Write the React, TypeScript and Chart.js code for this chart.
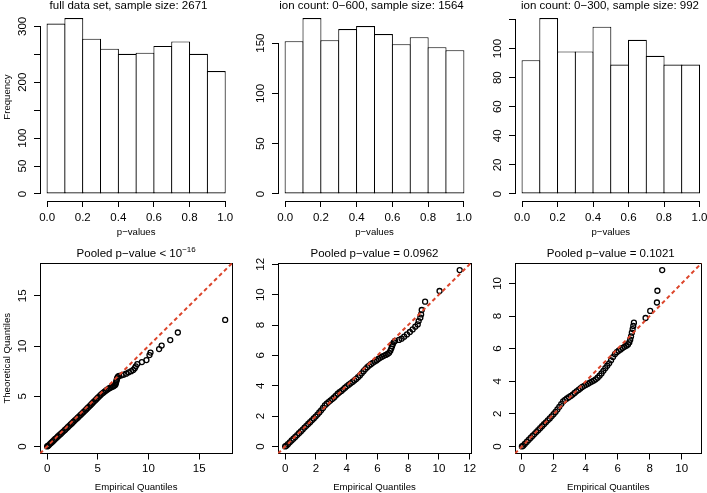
import React, { useEffect, useRef } from 'react';
import { Chart, registerables } from 'chart.js';

Chart.register(...registerables);

// ---------------- data ----------------
const binStarts = [0, 0.1, 0.2, 0.3, 0.4, 0.5, 0.6, 0.7, 0.8, 0.9];
const binWidth = 0.1;
const countsFull = [305, 315, 278, 260, 251, 253, 265, 273, 251, 220];
const counts600 = [152, 175, 153, 164, 167, 159, 149, 156, 146, 143];
const counts300 = [92, 121, 98, 98, 115, 89, 106, 95, 89, 89];

const histXTicks = [0, 0.2, 0.4, 0.6, 0.8, 1.0];
const yTicksFull = [0, 50, 100, 150, 200, 250, 300];
const yLabelsFull = ['0', '50', '100', '', '200', '', '300'];
const yTicks600 = [0, 50, 100, 150];
const yLabels600 = ['0', '50', '100', '150'];
const yTicks300 = [0, 20, 40, 60, 80, 100, 120];
const yLabels300 = ['0', '20', '40', '60', '80', '100', ''];

const topTitles = [
  'full data set, sample size: 2671',
  'ion count: 0\u2212600, sample size: 1564',
  'ion count: 0\u2212300, sample size: 992',
];

// QQ: empirical (x) vs theoretical (y) quantiles
const qqFullEmp = [
  0, 0.08, 0.18, 0.3, 0.42, 0.55, 0.68, 0.8, 0.93, 1.06,
  1.2, 1.34, 1.48, 1.62, 1.76, 1.9, 2.04, 2.18, 2.32, 2.46,
  2.6, 2.74, 2.88, 3.02, 3.16, 3.3, 3.44, 3.58, 3.72, 3.86,
  4.0, 4.14, 4.28, 4.42, 4.56, 4.7, 4.84, 4.98, 5.12, 5.26,
  5.4, 5.54, 5.68, 5.82, 5.96, 6.1, 6.24, 6.38, 6.5, 6.62,
  6.72, 6.78, 6.82, 6.86, 6.9, 6.95, 7.02,
  7.12, 7.35, 7.55, 7.8, 8.05, 8.3, 8.5, 8.65, 8.75, 8.9,
  9.35, 9.8, 10.1, 10.2, 11.05, 11.3, 12.15, 12.9, 17.57,
];
const qqFullTheo = [
  0, 0.05, 0.14, 0.26, 0.37, 0.5, 0.62, 0.74, 0.86, 0.99,
  1.12, 1.25, 1.38, 1.51, 1.65, 1.78, 1.92, 2.05, 2.19, 2.32,
  2.46, 2.6, 2.73, 2.86, 3.0, 3.13, 3.27, 3.41, 3.55, 3.69,
  3.83, 3.97, 4.11, 4.26, 4.4, 4.54, 4.68, 4.83, 4.97, 5.11,
  5.24, 5.36, 5.47, 5.58, 5.68, 5.77, 5.85, 5.92, 5.98, 6.04,
  6.12, 6.28, 6.45, 6.6, 6.75, 6.88, 6.98,
  7.02, 7.08, 7.15, 7.25, 7.38, 7.5, 7.62, 7.8, 7.98, 8.2,
  8.4, 8.6, 9.1, 9.35, 9.7, 10.05, 10.6, 11.35, 12.6,
];

const qq600Emp = [
  0, 0.08, 0.18, 0.3, 0.42, 0.54, 0.66, 0.78, 0.9, 1.02,
  1.14, 1.26, 1.38, 1.5, 1.62, 1.74, 1.86, 1.98, 2.1, 2.22,
  2.34, 2.46, 2.58, 2.7, 2.82, 2.94, 3.06, 3.18, 3.3, 3.42,
  3.54, 3.66, 3.78, 3.9, 4.02, 4.14, 4.26, 4.38, 4.5, 4.62,
  4.74, 4.86, 4.98, 5.1, 5.22, 5.34, 5.46, 5.58, 5.7, 5.82,
  5.94, 6.06, 6.18, 6.3, 6.42, 6.54, 6.66, 6.76, 6.84, 6.9,
  6.95, 7.0, 7.06, 7.14,
  7.4, 7.57, 7.74, 7.92, 8.11, 8.29, 8.46, 8.62, 8.68, 8.79,
  8.84, 8.88, 9.1, 10.04, 11.35,
];
const qq600Theo = [
  0, 0.05, 0.15, 0.27, 0.39, 0.51, 0.63, 0.75, 0.87, 0.99,
  1.11, 1.24, 1.36, 1.48, 1.6, 1.72, 1.84, 1.97, 2.1, 2.24,
  2.38, 2.54, 2.7, 2.82, 2.92, 3.02, 3.12, 3.23, 3.35, 3.47,
  3.57, 3.66, 3.76, 3.87, 3.98, 4.07, 4.16, 4.25, 4.35, 4.45,
  4.56, 4.68, 4.82, 4.96, 5.1, 5.22, 5.33, 5.42, 5.51, 5.59,
  5.67, 5.76, 5.84, 5.91, 5.97, 6.03, 6.09, 6.17, 6.3, 6.45,
  6.6, 6.74, 6.86, 6.95,
  7.02, 7.1, 7.23, 7.38, 7.54, 7.71, 7.89, 8.04, 8.26, 8.48,
  8.7, 8.99, 9.54, 10.24, 11.62,
];

const qq300Emp = [
  0, 0.08, 0.18, 0.3, 0.42, 0.54, 0.66, 0.78, 0.9, 1.02,
  1.14, 1.26, 1.38, 1.5, 1.62, 1.74, 1.86, 1.98, 2.1, 2.22,
  2.34, 2.46, 2.58, 2.7, 2.82, 2.94, 3.06, 3.18, 3.3, 3.42,
  3.54, 3.66, 3.78, 3.9, 4.02, 4.14, 4.26, 4.38, 4.5, 4.62,
  4.74, 4.86, 4.98, 5.1, 5.22, 5.34, 5.46, 5.58, 5.7, 5.82,
  5.94, 6.06, 6.18, 6.3, 6.42, 6.54, 6.64, 6.72, 6.78, 6.83,
  6.88, 6.93, 6.97,
  7.01, 7.74, 8.03, 8.45, 8.48, 8.78,
];
const qq300Theo = [
  0, 0.05, 0.15, 0.28, 0.4, 0.52, 0.64, 0.76, 0.88, 1.0,
  1.12, 1.24, 1.36, 1.48, 1.6, 1.72, 1.85, 1.98, 2.12, 2.27,
  2.43, 2.6, 2.76, 2.86, 2.94, 3.02, 3.1, 3.18, 3.28, 3.38,
  3.47, 3.56, 3.65, 3.72, 3.78, 3.85, 3.92, 3.98, 4.04, 4.12,
  4.22, 4.34, 4.48, 4.64, 4.8, 4.95, 5.1, 5.28, 5.48, 5.66,
  5.78, 5.87, 5.95, 6.04, 6.11, 6.18, 6.26, 6.38, 6.55, 6.75,
  6.98, 7.2, 7.39,
  7.59, 7.88, 8.31, 8.83, 9.55, 10.82,
];

const qqTicksFull = [0, 5, 10, 15];
const qqTicks600 = [0, 2, 4, 6, 8, 10, 12];
const qqTicks300 = [0, 2, 4, 6, 8, 10];

// ---------------- layout / style ----------------
const W = 707;
const H = 493;
const FONT = '"Liberation Sans", Arial, Helvetica, sans-serif';
const tickFont = { family: FONT, size: 11.5, lineHeight: 1.2 };
const labFont = { family: FONT, size: 9.6, lineHeight: 1.2 };
const YW = 40;
const XH = 40;
const TL = 6;
const RED = '#dc452b';

const COLS = [
  { L: 40, R: 232.3 },
  { L: 278, R: 471 },
  { L: 515, R: 706.6 },
];
const ROWS = [
  { T: 11, B: 201, xPad: 4.2, yPad: 1.4, xTitlePad: 2.7 },
  { T: 263, B: 453.5, xPad: 2.8, yPad: 4.6, xTitlePad: 0.8 },
];

const alignPx = (p: number) => Math.round(p - 0.5) + 0.5;

const rAxisPlugin = {
  id: 'rAxis',
  afterDraw(chart: any) {
    const { ctx, chartArea, scales } = chart;
    const xs = scales.x;
    const ys = scales.y;
    ctx.save();
    ctx.strokeStyle = '#000';
    ctx.lineWidth = 1;
    ctx.lineCap = 'square';
    ctx.beginPath();
    const xt = xs.ticks;
    const yb = alignPx(chartArea.bottom);
    ctx.moveTo(alignPx(xs.getPixelForValue(xt[0].value)), yb);
    ctx.lineTo(alignPx(xs.getPixelForValue(xt[xt.length - 1].value)), yb);
    const yt = ys.ticks;
    const xl = alignPx(chartArea.left);
    ctx.moveTo(xl, alignPx(ys.getPixelForValue(yt[0].value)));
    ctx.lineTo(xl, alignPx(ys.getPixelForValue(yt[yt.length - 1].value)));
    ctx.stroke();
    ctx.restore();
  },
};

function linearAxis(min: number, max: number, tickVals: number[]) {
  return {
    type: 'linear',
    min,
    max,
    bounds: 'data',
    offset: false,
    afterBuildTicks: (s: any) => {
      s.ticks = tickVals.map((v) => ({ value: v }));
    },
  };
}

const tickGrid = {
  display: true,
  drawOnChartArea: false,
  drawTicks: true,
  tickLength: TL,
  color: '#000',
  lineWidth: 1,
  offset: false,
};

function xAxis(row: any, min: number, max: number, ticks: number[], fmt: (v: number) => string, title: string, border: boolean) {
  return {
    ...linearAxis(min, max, ticks),
    position: 'bottom',
    grid: tickGrid,
    border: { display: border, color: '#000', width: 1 },
    ticks: { autoSkip: false, maxRotation: 0, minRotation: 0, padding: row.xPad, color: '#000', font: tickFont, callback: (v: number) => fmt(v) },
    title: { display: true, text: title, color: '#000', font: labFont, padding: { top: 0, bottom: row.xTitlePad } },
    afterFit: (s: any) => {
      s.height = XH;
      s.paddingLeft = 0;
      s.paddingRight = 0;
    },
  };
}

function yAxis(row: any, min: number, max: number, ticks: number[], labels: string[], title: string | null, border: boolean) {
  return {
    ...linearAxis(min, max, ticks),
    position: 'left',
    grid: tickGrid,
    border: { display: border, color: '#000', width: 1 },
    ticks: {
      autoSkip: false, minRotation: 90, maxRotation: 90, crossAlign: 'center', padding: row.yPad,
      color: '#000', font: tickFont, callback: (_v: number, i: number) => labels[i],
    },
    title: { display: !!title, text: title || '', color: '#000', font: labFont, padding: { top: 1.2, bottom: 0 } },
    afterFit: (s: any) => {
      s.width = YW;
      s.paddingTop = 0;
      s.paddingBottom = 0;
    },
  };
}

function makeHist(col: number, counts: number[], yTicks: number[], yLabels: string[]) {
  const { L, R } = COLS[col];
  const row = ROWS[0];
  const ymax = Math.max(...counts);
  // bin width in pixels, so that neighbouring outlines overlap by 1px (one shared edge like R's rect())
  const binPx = ((R - L) / 1.08) * binWidth;
  return {
    type: 'bar',
    data: {
      datasets: [
        {
          data: counts.map((c, i) => ({ x: binStarts[i] + binWidth / 2, y: c })),
          backgroundColor: '#ffffff',
          borderColor: '#000000',
          borderSkipped: false,
          inflateAmount: 0,
          barPercentage: 1,
          categoryPercentage: (binPx + 1.1) / binPx,
          grouped: false,
          borderWidth: 1.1,
        },
      ],
    },
    options: {
      responsive: false,
      animation: false,
      events: [],
      layout: { padding: { left: L - YW, right: W - R, top: row.T, bottom: H - row.B - XH } },
      plugins: { legend: { display: false }, tooltip: { enabled: false }, title: { display: false } },
      scales: {
        x: xAxis(row, -0.04, 1.04, histXTicks, (v) => v.toFixed(1), 'p\u2212values', false),
        y: yAxis(row, -0.04 * ymax, 1.04 * ymax, yTicks, yLabels, null, false),
      },
    },
    plugins: [rAxisPlugin],
  };
}

function makeQQ(col: number, emp: number[], theo: number[], ticks: number[], yTitle: string | null) {
  const { L, R } = COLS[col];
  const row = ROWS[1];
  const M = Math.max(...emp, ...theo);
  const lo = -0.04 * M;
  const hi = 1.04 * M;
  const labels = ticks.map((t) => String(t));
  const boxAxis = (pos: string, horizontal: boolean) => ({
    type: 'linear',
    position: pos,
    min: lo,
    max: hi,
    display: true,
    grid: { display: false, drawTicks: false },
    ticks: { display: false },
    border: { display: true, color: '#000', width: 1 },
    afterFit: (s: any) => {
      if (horizontal) s.height = 0; else s.width = 0;
      s.paddingLeft = 0; s.paddingRight = 0; s.paddingTop = 0; s.paddingBottom = 0;
    },
  });
  return {
    type: 'scatter',
    data: {
      datasets: [
        {
          type: 'line',
          data: [{ x: lo, y: lo }, { x: hi, y: hi }],
          borderColor: RED,
          borderWidth: 2,
          borderDash: [4, 3],
          pointRadius: 0,
          fill: false,
          order: 0,
        },
        {
          type: 'scatter',
          data: emp.map((x, i) => ({ x, y: theo[i] })),
          pointStyle: 'circle',
          pointRadius: 2.5,
          borderWidth: 1.3,
          borderColor: '#000',
          backgroundColor: 'rgba(0,0,0,0)',
          order: 1,
        },
      ],
    },
    options: {
      responsive: false,
      animation: false,
      events: [],
      layout: { padding: { left: L - YW, right: W - R, top: row.T, bottom: H - row.B - XH } },
      plugins: { legend: { display: false }, tooltip: { enabled: false }, title: { display: false } },
      scales: {
        x: xAxis(row, lo, hi, ticks, (v) => String(v), 'Empirical Quantiles', true),
        y: yAxis(row, lo, hi, ticks, labels, yTitle, true),
        x2: boxAxis('top', true),
        y2: boxAxis('right', false),
      },
    },
  };
}

function ChartCanvas({ make }: { make: () => any }) {
  const ref = useRef<HTMLCanvasElement>(null);
  useEffect(() => {
    const chart = new Chart(ref.current as HTMLCanvasElement, make());
    return () => chart.destroy();
  }, []);
  return (
    <canvas
      ref={ref}
      width={W}
      height={H}
      style={{ position: 'absolute', left: 0, top: 0, width: W, height: H }}
    />
  );
}

const titleStyle = (cx: number, baseline: number): React.CSSProperties => ({
  position: 'absolute',
  left: cx - 150,
  width: 300,
  top: baseline - 11,
  height: 14,
  lineHeight: '14px',
  fontSize: 11.5,
  fontFamily: FONT,
  textAlign: 'center',
  color: '#000',
  whiteSpace: 'nowrap',
});

const topTitleX = [128.5, 371.5, 610];

export default function App() {
  return (
    <div style={{ position: 'absolute', left: 0, top: 0, width: W, height: H, background: '#fff', overflow: 'hidden' }}>
      <ChartCanvas make={() => makeHist(0, countsFull, yTicksFull, yLabelsFull)} />
      <ChartCanvas make={() => makeHist(1, counts600, yTicks600, yLabels600)} />
      <ChartCanvas make={() => makeHist(2, counts300, yTicks300, yLabels300)} />
      <ChartCanvas make={() => makeQQ(0, qqFullEmp, qqFullTheo, qqTicksFull, 'Theoretical Quantiles')} />
      <ChartCanvas make={() => makeQQ(1, qq600Emp, qq600Theo, qqTicks600, null)} />
      <ChartCanvas make={() => makeQQ(2, qq300Emp, qq300Theo, qqTicks300, null)} />
      <div
        style={{
          position: 'absolute', left: 7 - 50, top: 97 - 7, width: 100, height: 14, lineHeight: '14px',
          fontSize: 9.6, fontFamily: FONT, textAlign: 'center', color: '#000', whiteSpace: 'nowrap',
          transform: 'rotate(-90deg)', transformOrigin: '50% 50%',
        }}
      >
        Frequency
      </div>
      {topTitles.map((t, i) => (
        <div key={'t' + i} style={titleStyle(topTitleX[i], 9.3)}>{t}</div>
      ))}
      <div style={titleStyle((COLS[0].L + COLS[0].R) / 2, 256.5)}>
        Pooled p{'\u2212'}value &lt; 10
        <span style={{ fontSize: 8, verticalAlign: 5, lineHeight: '8px' }}>{'\u2212'}16</span>
      </div>
      <div style={titleStyle((COLS[1].L + COLS[1].R) / 2, 256.5)}>Pooled p{'\u2212'}value = 0.0962</div>
      <div style={titleStyle((COLS[2].L + COLS[2].R) / 2, 256.5)}>Pooled p{'\u2212'}value = 0.1021</div>
    </div>
  );
}
